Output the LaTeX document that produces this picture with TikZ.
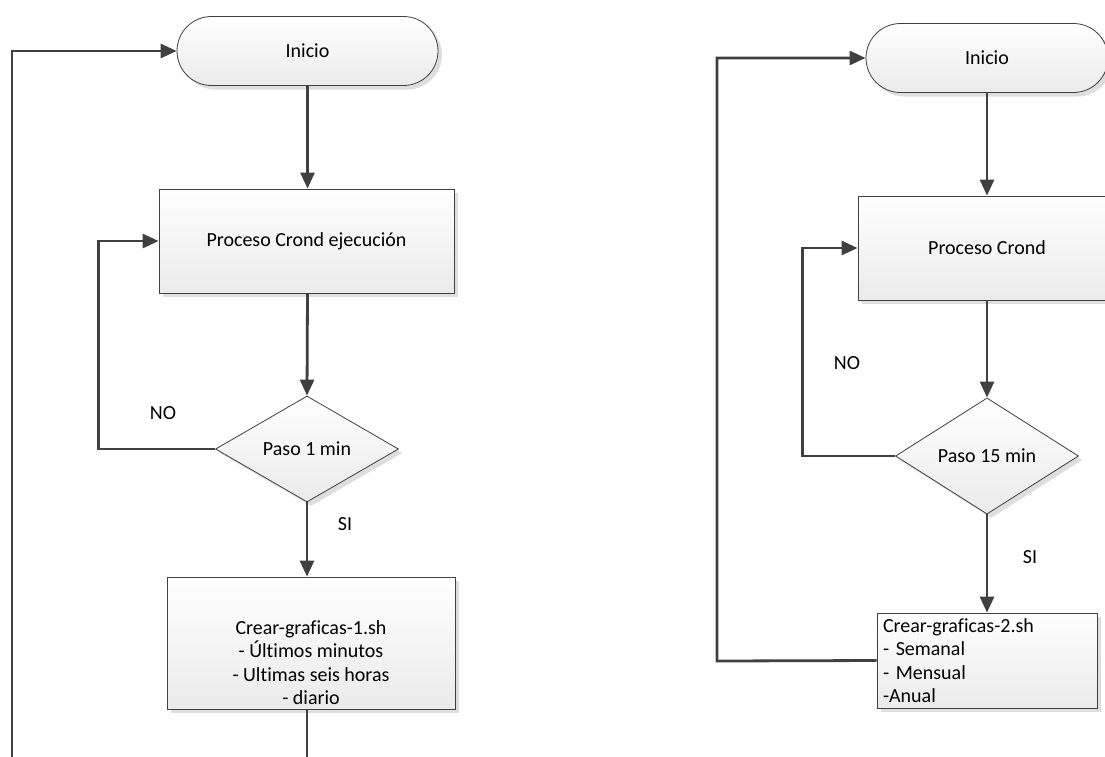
\documentclass[tikz,border=0pt]{standalone}
\usepackage{fontspec}
\setmainfont{Carlito}[Ligatures=NoCommon]
\usetikzlibrary{arrows.meta,shapes.geometric,shadows}
\begin{document}
\begin{tikzpicture}[x=1pt,y=-1pt,
  font=\fontsize{20}{23.3}\selectfont,
  shapebox/.style={draw=black!75, line width=0.8pt, top color=white, bottom color=black!8,
    drop shadow={shadow xshift=4pt, shadow yshift=-4pt, fill=black!13, opacity=1}, inner sep=3pt},
  terminal/.style={shapebox, rectangle, rounded corners=34.5pt, minimum height=69pt},
  process/.style={shapebox, rectangle},
  decision/.style={shapebox, diamond, minimum width=183pt, minimum height=104pt, inner sep=1pt},
  conn/.style={draw=black!75, line width=2.8pt, -{Triangle[length=16pt,width=14pt]}},
  lbl/.style={inner sep=0pt}
]
\useasboundingbox (0,0) rectangle (1105,756);
\clip (0,0) rectangle (1105,756);

% ---------- left chart ----------
\node[terminal, minimum width=261pt] (ini1) at (307.5,51) {Inicio};
\node[process, minimum width=295pt, minimum height=104pt] (proc1) at (306.5,241) {Proceso Crond ejecución};
\node[decision] (dec1) at (307,449) {Paso 1 min};
\node[process, minimum width=288pt, minimum height=132pt, inner ysep=0pt, align=center] (crear1) at (311,643)
  {\rule{0pt}{53pt}Crear-graficas-1.sh\\- Últimos minutos\\- Ultimas seis horas\\- diario};
\coordinate (loopL) at (12,790);

\draw[conn] (ini1.south) -- (proc1.north -| ini1.south);
\draw[conn] (proc1.south -| ini1.south) -- (dec1.north);
\draw[conn] (dec1.south) -- (dec1.south |- crear1.north);
\draw[conn] (dec1.west) -- ++(-117,0) |- (proc1.west);
\draw[conn] (crear1.south -| dec1.south) |- (loopL) |- (ini1.west);

\node[lbl] (no1) at (163,413) {NO};
\node[lbl] (si1) at (345,524) {SI};

% ---------- right chart ----------
\node[terminal, minimum width=242pt] (ini2) at (987,58) {Inicio};
\node[process, minimum width=258pt, minimum height=104pt] (proc2) at (987,248) {Proceso Crond};
\node[decision] (dec2) at (987,456) {Paso 15 min};
\node[process, minimum width=220pt, minimum height=95pt, text width=208pt, inner xsep=6pt, inner ysep=1pt, align=left] (crear2) at (987,660.5)
  {Crear-graficas-2.sh\\- Semanal\\- Mensual\\-Anual};
\coordinate (loopR) at (717,661);

\draw[conn] (ini2.south) -- (proc2.north);
\draw[conn] (proc2.south) -- (dec2.north);
\draw[conn] (dec2.south) -- (crear2.north);
\draw[conn] (dec2.west) -- ++(-93,0) |- (proc2.west);
\draw[conn] (crear2.west) -- (loopR) |- (ini2.west);

\node[lbl] (no2) at (847,363) {NO};
\node[lbl] (si2) at (1030,557) {SI};
\end{tikzpicture}
\end{document}
